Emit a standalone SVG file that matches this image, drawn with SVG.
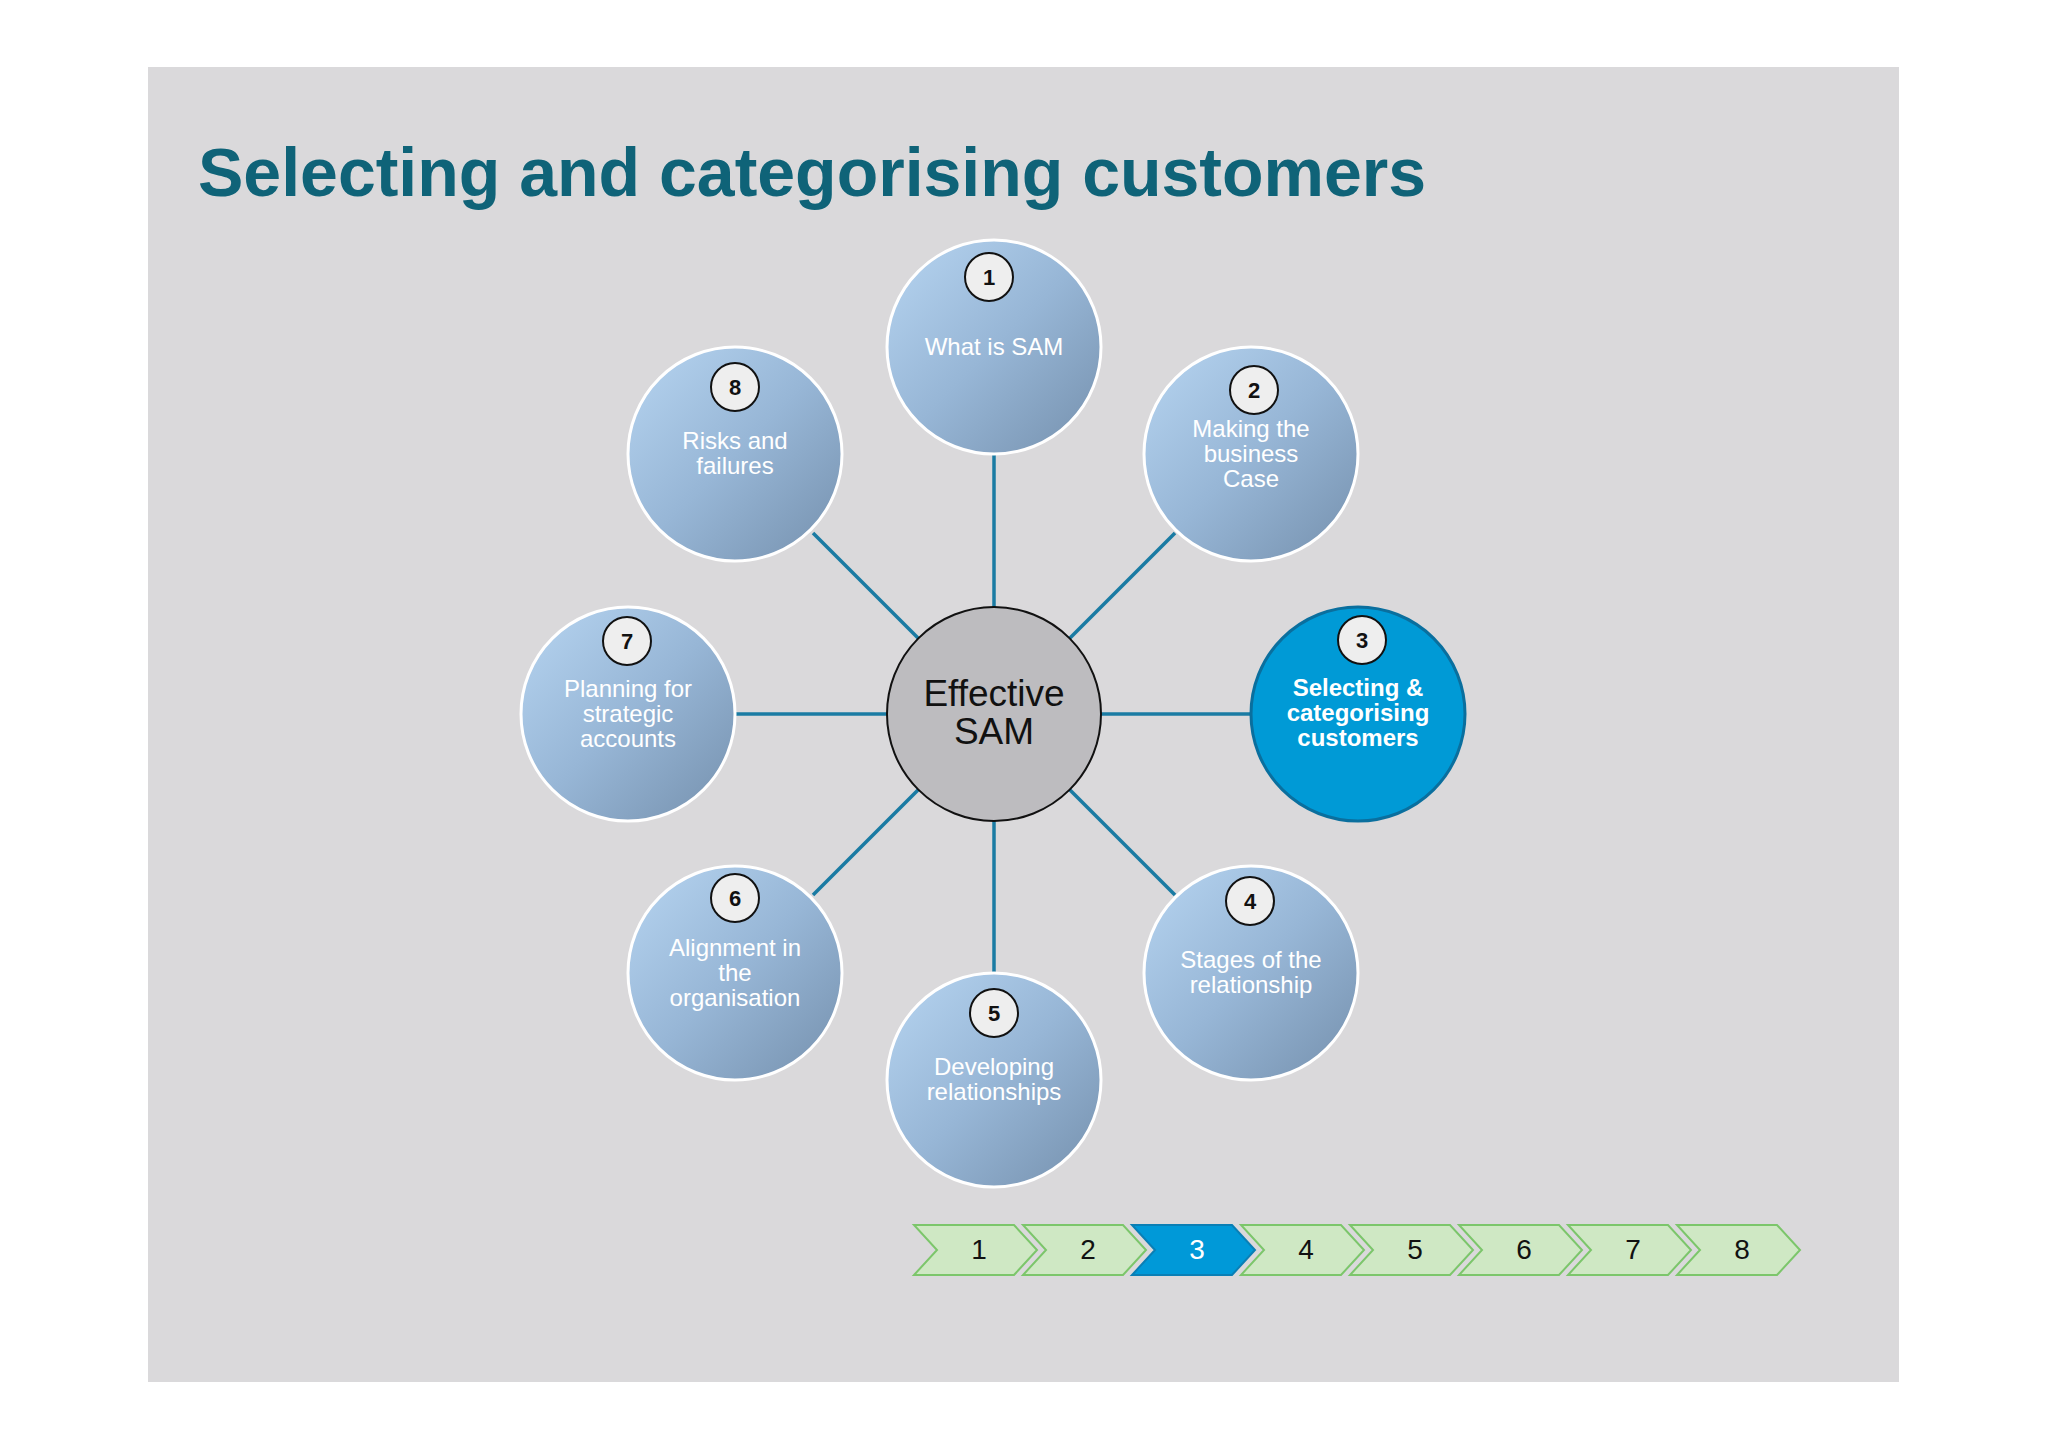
<svg xmlns="http://www.w3.org/2000/svg" width="2048" height="1451" viewBox="0 0 2048 1451">
<defs>
<linearGradient id="g" x1="0" y1="0" x2="1" y2="1">
<stop offset="0" stop-color="#b7d5f1"/><stop offset="0.5" stop-color="#97b6d6"/><stop offset="1" stop-color="#7590ad"/>
</linearGradient>
<path id="chev" d="M0,0 H100 L123,25 L100,50 H0 L23,25 Z"/>
</defs>
<style>
.n{fill:url(#g);stroke:#fff;stroke-width:3}
.b{fill:#eeeeee;stroke:#111;stroke-width:2}
.bt{font-family:"Liberation Sans",Arial,sans-serif;font-weight:bold;font-size:22px;text-anchor:middle;fill:#111}
.t{font-family:"Liberation Sans",Arial,sans-serif;font-size:24px;text-anchor:middle;fill:#fff}
.ct{font-family:"Liberation Sans",Arial,sans-serif;font-size:37px;text-anchor:middle;fill:#111}
.cv{fill:#cfe8c4;stroke:#7cc66b;stroke-width:2}
.l{stroke:#1a7ba3;stroke-width:3.5}
</style>
<rect width="2048" height="1451" fill="#fff"/>
<rect x="148" y="67" width="1751" height="1315" fill="#dad9db"/>
<text x="198" y="196" font-family="Liberation Sans,Arial,sans-serif" font-weight="bold" font-size="68" fill="#0f6378">Selecting and categorising customers</text>
<g id="connectors">
<line class="l" x1="994" y1="714" x2="994" y2="440"/>
<line class="l" x1="994" y1="714" x2="1175" y2="533"/>
<line class="l" x1="994" y1="714" x2="1252" y2="714"/>
<line class="l" x1="994" y1="714" x2="1175" y2="895"/>
<line class="l" x1="994" y1="714" x2="994" y2="975"/>
<line class="l" x1="994" y1="714" x2="813" y2="895"/>
<line class="l" x1="994" y1="714" x2="735" y2="714"/>
<line class="l" x1="994" y1="714" x2="813" y2="533"/>
</g>
<g id="center"><circle cx="994" cy="714" r="107" fill="#bdbcbf" stroke="#111" stroke-width="2"/>
<text class="ct" x="994" y="706">Effective</text><text class="ct" x="994" y="744">SAM</text></g>
<g id="n1"><circle class="n" cx="994" cy="347" r="107"/><circle class="b" cx="989" cy="277" r="24"/><text class="bt" x="989" y="285">1</text><text class="t" x="994" y="355">What is SAM</text></g>
<g id="n2"><circle class="n" cx="1251" cy="454" r="107"/><circle class="b" cx="1254" cy="390" r="24"/><text class="bt" x="1254" y="398">2</text><text class="t" x="1251" y="437">Making the</text><text class="t" x="1251" y="462">business</text><text class="t" x="1251" y="487">Case</text></g>
<g id="n3"><circle cx="1358" cy="714" r="107" fill="#009ad6" stroke="#0a6f9e" stroke-width="3"/><circle class="b" cx="1362" cy="640" r="24"/><text class="bt" x="1362" y="648">3</text>
<text class="t" font-weight="bold" x="1358" y="696">Selecting &amp;</text><text class="t" font-weight="bold" x="1358" y="721">categorising</text><text class="t" font-weight="bold" x="1358" y="746">customers</text></g>
<g id="n4"><circle class="n" cx="1251" cy="973" r="107"/><circle class="b" cx="1250" cy="901" r="24"/><text class="bt" x="1250" y="909">4</text><text class="t" x="1251" y="968">Stages of the</text><text class="t" x="1251" y="993">relationship</text></g>
<g id="n5"><circle class="n" cx="994" cy="1080" r="107"/><circle class="b" cx="994" cy="1013" r="24"/><text class="bt" x="994" y="1021">5</text><text class="t" x="994" y="1075">Developing</text><text class="t" x="994" y="1100">relationships</text></g>
<g id="n6"><circle class="n" cx="735" cy="973" r="107"/><circle class="b" cx="735" cy="898" r="24"/><text class="bt" x="735" y="906">6</text><text class="t" x="735" y="956">Alignment in</text><text class="t" x="735" y="981">the</text><text class="t" x="735" y="1006">organisation</text></g>
<g id="n7"><circle class="n" cx="628" cy="714" r="107"/><circle class="b" cx="627" cy="641" r="24"/><text class="bt" x="627" y="649">7</text><text class="t" x="628" y="697">Planning for</text><text class="t" x="628" y="722">strategic</text><text class="t" x="628" y="747">accounts</text></g>
<g id="n8"><circle class="n" cx="735" cy="454" r="107"/><circle class="b" cx="735" cy="387" r="24"/><text class="bt" x="735" y="395">8</text><text class="t" x="735" y="449">Risks and</text><text class="t" x="735" y="474">failures</text></g>
<g id="progress" font-family="Liberation Sans,Arial,sans-serif" font-size="28" text-anchor="middle">
<use href="#chev" class="cv" x="914" y="1225"/><text x="979" y="1259" fill="#111">1</text>
<use href="#chev" class="cv" x="1023" y="1225"/><text x="1088" y="1259" fill="#111">2</text>
<use href="#chev" x="1132" y="1225" fill="#0099d8" stroke="#0a7fb5" stroke-width="2"/><text x="1197" y="1259" fill="#fff">3</text>
<use href="#chev" class="cv" x="1241" y="1225"/><text x="1306" y="1259" fill="#111">4</text>
<use href="#chev" class="cv" x="1350" y="1225"/><text x="1415" y="1259" fill="#111">5</text>
<use href="#chev" class="cv" x="1459" y="1225"/><text x="1524" y="1259" fill="#111">6</text>
<use href="#chev" class="cv" x="1568" y="1225"/><text x="1633" y="1259" fill="#111">7</text>
<use href="#chev" class="cv" x="1677" y="1225"/><text x="1742" y="1259" fill="#111">8</text>
</g>
</svg>
